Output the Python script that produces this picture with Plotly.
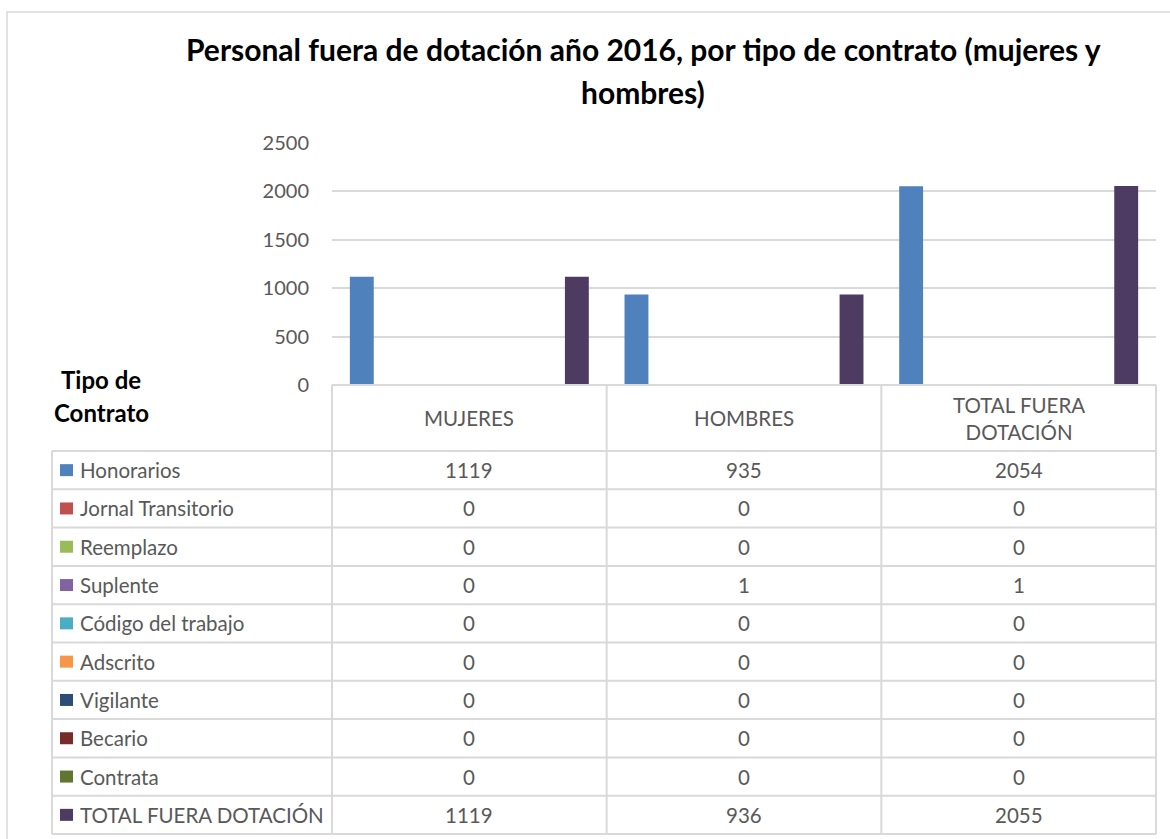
import plotly.graph_objects as go

W, H = 1170, 839

# ---- data ----
categories = ["MUJERES", "HOMBRES", "TOTAL FUERA<br>DOTACIÓN"]
series_names = ["Honorarios", "Jornal Transitorio", "Reemplazo", "Suplente",
                "Código del trabajo", "Adscrito", "Vigilante", "Becario",
                "Contrata", "TOTAL FUERA DOTACIÓN"]
honorarios = [1119, 935, 2054]
jornal = [0, 0, 0]
reemplazo = [0, 0, 0]
suplente = [0, 1, 1]
codigo = [0, 0, 0]
adscrito = [0, 0, 0]
vigilante = [0, 0, 0]
becario = [0, 0, 0]
contrata = [0, 0, 0]
total = [1119, 936, 2055]
series_values = [honorarios, jornal, reemplazo, suplente, codigo, adscrito,
                 vigilante, becario, contrata, total]
colors = ["#4F81BD", "#C0504D", "#9BBB59", "#8064A2", "#4BACC6", "#F79646",
          "#2C4D75", "#772C2A", "#5F7530", "#4D3B62"]
y_ticks = [0, 500, 1000, 1500, 2000, 2500]

# ---- layout geometry (pixels) ----
PL, PR, PT, PB = 332, 1156, 143, 385   # plot area
TL = 52                                 # table left
HDR_B = 451                             # header bottom
ROW_H = (834 - HDR_B) / len(series_names)
GRID = "#D9D9D9"
TXT = "#595959"
FONT = "Lato"
FS = 20.5


def px(x):
    return x / W


def py(y):
    return 1 - y / H


fig = go.Figure()
for name, vals, col in zip(series_names, series_values, colors):
    fig.add_trace(go.Bar(name=name, x=[c.replace("<br>", " ") for c in categories],
                         y=vals, marker=dict(color=col, line=dict(width=0))))

shapes = []
annotations = []

# outer border
shapes.append(dict(type="rect", xref="paper", yref="paper",
                   x0=px(7), x1=px(1190), y0=py(12), y1=py(860),
                   line=dict(color=GRID, width=1.5), fillcolor="rgba(0,0,0,0)"))

# table horizontal lines
shapes.append(dict(type="line", xref="paper", yref="paper",
                   x0=px(PL), x1=px(PR), y0=py(PB), y1=py(PB),
                   line=dict(color=GRID, width=2)))
for i in range(len(series_names) + 1):
    yy = HDR_B + i * ROW_H
    shapes.append(dict(type="line", xref="paper", yref="paper",
                       x0=px(TL), x1=px(PR), y0=py(yy), y1=py(yy),
                       line=dict(color=GRID, width=2)))
# table vertical lines
shapes.append(dict(type="line", xref="paper", yref="paper",
                   x0=px(TL), x1=px(TL), y0=py(HDR_B), y1=py(834),
                   line=dict(color=GRID, width=2)))
col_w = (PR - PL) / len(categories)
for j in range(len(categories) + 1):
    xx = PL + j * col_w
    shapes.append(dict(type="line", xref="paper", yref="paper",
                       x0=px(xx), x1=px(xx), y0=py(PB), y1=py(834),
                       line=dict(color=GRID, width=2)))

# header labels
for j, c in enumerate(categories):
    annotations.append(dict(xref="paper", yref="paper", x=px(PL + (j + 0.5) * col_w),
                            y=py((PB + HDR_B) / 2), text=c, showarrow=False,
                            xanchor="center", yanchor="middle", align="center",
                            font=dict(family=FONT, size=FS, color=TXT)))

# rows
for i, (name, vals, col) in enumerate(zip(series_names, series_values, colors)):
    yc = HDR_B + (i + 0.5) * ROW_H
    shapes.append(dict(type="rect", xref="paper", yref="paper",
                       x0=px(60), x1=px(73), y0=py(yc - 6), y1=py(yc + 6),
                       line=dict(width=0), fillcolor=col))
    annotations.append(dict(xref="paper", yref="paper", x=px(78), y=py(yc),
                            text=name, showarrow=False, xanchor="left", yanchor="middle",
                            font=dict(family=FONT, size=FS, color=TXT)))
    for j, v in enumerate(vals):
        annotations.append(dict(xref="paper", yref="paper", x=px(PL + (j + 0.5) * col_w),
                                y=py(yc), text=str(v), showarrow=False,
                                xanchor="center", yanchor="middle",
                                font=dict(family=FONT, size=FS, color=TXT)))

# "Tipo de Contrato"
annotations.append(dict(xref="paper", yref="paper", x=px(101), y=py(379), text="<b>Tipo de</b>",
                        showarrow=False, xanchor="center", yanchor="middle",
                        font=dict(family=FONT, size=24, color="#000000")))
annotations.append(dict(xref="paper", yref="paper", x=px(101), y=py(412), text="<b>Contrato</b>",
                        showarrow=False, xanchor="center", yanchor="middle",
                        font=dict(family=FONT, size=24, color="#000000")))

# title
annotations.append(dict(xref="paper", yref="paper", x=px(643), y=py(49),
                        text="<b>Personal fuera de dotación año 2016, por tipo de contrato (mujeres y</b>",
                        showarrow=False, xanchor="center", yanchor="middle",
                        font=dict(family=FONT, size=30, color="#000000")))
annotations.append(dict(xref="paper", yref="paper", x=px(643), y=py(92),
                        text="<b>hombres)</b>",
                        showarrow=False, xanchor="center", yanchor="middle",
                        font=dict(family=FONT, size=30, color="#000000")))

fig.update_layout(
    width=W, height=H,
    margin=dict(l=0, r=0, t=0, b=0, autoexpand=False),
    paper_bgcolor="white", plot_bgcolor="white",
    barmode="group", bargap=0.13, bargroupgap=0,
    showlegend=False,
    xaxis=dict(domain=[px(PL), px(PR)], showticklabels=False, showgrid=False,
               zeroline=False, showline=False, ticks="", automargin=False),
    yaxis=dict(domain=[py(PB), py(PT)], range=[0, 2500], tickvals=y_ticks,
               showgrid=True, gridcolor=GRID, gridwidth=2, zeroline=False,
               showline=False, ticks="", ticklabelstandoff=22, automargin=False,
               tickfont=dict(family=FONT, size=20, color=TXT)),
    shapes=shapes, annotations=annotations,
)

post = """
document.body.style.margin='0';
document.documentElement.style.overflow='hidden';
"""
fig.write_html("out.html", config={"displayModeBar": False}, post_script=post)
